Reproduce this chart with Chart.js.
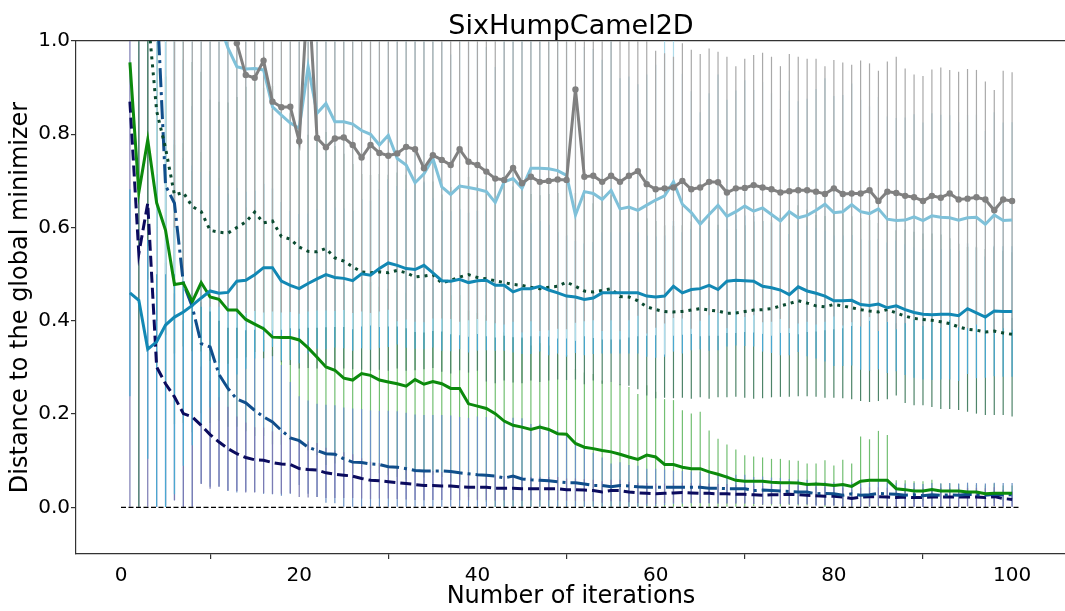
<!DOCTYPE html>
<html>
<head>
<meta charset="utf-8">
<title>SixHumpCamel2D</title>
<script src="https://cdn.jsdelivr.net/npm/chart.js@4.4.0/dist/chart.umd.min.js"></script>
<style>
html, body { margin: 0; padding: 0; overflow: hidden; background: #fff; }
canvas { display: block; }
</style>
</head>
<body>
<canvas id="myChart" width="1070" height="611"></canvas>
<script>
// iterations 1..100, axis ticks
const iterations = Array.from({ length: 100 }, (_, i) => i + 1);
const xTicks = [0, 20, 40, 60, 80, 100];
const yTicks = [0, 0.2, 0.4, 0.6, 0.8, 1.0];

// mean distance per iteration and its spread (error bar half length)
const gray = [3.4, 3.1, 2.8, 2.5, 2.2, 1.95, 1.75, 1.6, 1.48, 1.38,
  1.3, 1.2, 0.995, 0.927, 0.921, 0.958, 0.870, 0.858, 0.859, 0.785,
  1.12, 0.792, 0.772, 0.791, 0.793, 0.777, 0.750, 0.777, 0.760, 0.754,
  0.759, 0.773, 0.768, 0.727, 0.755, 0.745, 0.734, 0.768, 0.741, 0.734,
  0.720, 0.705, 0.702, 0.728, 0.695, 0.709, 0.698, 0.700, 0.703, 0.702,
  0.896, 0.709, 0.711, 0.698, 0.711, 0.698, 0.711, 0.721, 0.693, 0.682,
  0.684, 0.686, 0.700, 0.682, 0.686, 0.698, 0.697, 0.675, 0.684, 0.685,
  0.691, 0.686, 0.682, 0.675, 0.678, 0.680, 0.680, 0.677, 0.672, 0.684,
  0.672, 0.673, 0.673, 0.680, 0.657, 0.677, 0.674, 0.668, 0.665, 0.657,
  0.668, 0.664, 0.673, 0.660, 0.662, 0.665, 0.660, 0.637, 0.660, 0.657];
const grayErr = [2.35, 2.05, 1.75, 1.45, 1.15, 1.35, 1.25, 1.15, 1.05, 0.95,
  0.87, 0.77, 0.575, 0.51, 0.50, 0.54, 0.45, 0.44, 0.44, 0.37,
  0.70, 0.37, 0.35, 0.37, 0.37, 0.36, 0.33, 0.36, 0.34, 0.33,
  0.36, 0.37, 0.37, 0.33, 0.35, 0.34, 0.33, 0.37, 0.34, 0.33,
  0.32, 0.31, 0.31, 0.33, 0.32, 0.31, 0.32, 0.32, 0.32, 0.32,
  0.50, 0.31, 0.31, 0.32, 0.31, 0.32, 0.31, 0.31, 0.32, 0.297,
  0.29, 0.28, 0.295, 0.299, 0.286, 0.286, 0.28, 0.291, 0.262, 0.277,
  0.279, 0.289, 0.284, 0.271, 0.294, 0.286, 0.282, 0.285, 0.274, 0.275,
  0.282, 0.276, 0.285, 0.272, 0.279, 0.279, 0.292, 0.273, 0.263, 0.268,
  0.271, 0.279, 0.265, 0.274, 0.278, 0.273, 0.253, 0.258, 0.276, 0.276];

const lightBlue = [2.6, 2.4, 2.1, 1.9, 1.7, 1.55, 1.4, 1.28, 1.18, 1.1,
  1.04, 0.985, 0.945, 0.940, 0.941, 0.938, 0.859, 0.841, 0.824, 0.813,
  0.945, 0.845, 0.866, 0.827, 0.827, 0.822, 0.808, 0.800, 0.777, 0.798,
  0.748, 0.734, 0.696, 0.715, 0.748, 0.687, 0.671, 0.689, 0.686, 0.682,
  0.677, 0.654, 0.698, 0.705, 0.684, 0.727, 0.727, 0.726, 0.722, 0.712,
  0.627, 0.677, 0.673, 0.660, 0.680, 0.640, 0.644, 0.637, 0.648, 0.659,
  0.668, 0.698, 0.650, 0.632, 0.607, 0.628, 0.648, 0.624, 0.634, 0.646,
  0.635, 0.642, 0.628, 0.614, 0.634, 0.621, 0.626, 0.637, 0.650, 0.632,
  0.634, 0.649, 0.634, 0.630, 0.640, 0.618, 0.615, 0.616, 0.623, 0.615,
  0.625, 0.622, 0.621, 0.616, 0.621, 0.622, 0.607, 0.627, 0.615, 0.616];
const lightBlueErr = [1.5, 1.3, 1.1, 1.4, 1.2, 1.05, 0.92, 0.82, 0.74, 0.68,
  0.64, 0.6, 0.56, 0.56, 0.56, 0.55, 0.48, 0.46, 0.44, 0.43,
  0.56, 0.46, 0.48, 0.44, 0.44, 0.44, 0.42, 0.41, 0.39, 0.41,
  0.36, 0.35, 0.32, 0.34, 0.37, 0.31, 0.30, 0.32, 0.32, 0.31,
  0.31, 0.29, 0.33, 0.34, 0.32, 0.36, 0.36, 0.36, 0.36, 0.35,
  0.27, 0.31, 0.31, 0.30, 0.32, 0.28, 0.28, 0.27, 0.28, 0.29,
  0.34, 0.33, 0.28, 0.26, 0.24, 0.26, 0.28, 0.25, 0.26, 0.27,
  0.26, 0.27, 0.26, 0.24, 0.26, 0.25, 0.25, 0.26, 0.27, 0.25,
  0.25, 0.26, 0.24, 0.23, 0.24, 0.22, 0.22, 0.22, 0.22, 0.21,
  0.22, 0.22, 0.22, 0.21, 0.22, 0.22, 0.20, 0.22, 0.21, 0.21];

const teal = [0.460, 0.444, 0.339, 0.355, 0.391, 0.408, 0.419, 0.433, 0.449, 0.464,
  0.459, 0.461, 0.485, 0.487, 0.499, 0.514, 0.514, 0.485, 0.476, 0.469,
  0.480, 0.490, 0.499, 0.493, 0.491, 0.486, 0.501, 0.498, 0.512, 0.524,
  0.519, 0.512, 0.510, 0.519, 0.503, 0.486, 0.485, 0.489, 0.482, 0.486,
  0.487, 0.476, 0.476, 0.462, 0.469, 0.469, 0.474, 0.466, 0.460, 0.453,
  0.451, 0.446, 0.449, 0.460, 0.460, 0.460, 0.460, 0.460, 0.453, 0.451,
  0.453, 0.474, 0.460, 0.467, 0.469, 0.476, 0.467, 0.485, 0.487, 0.486,
  0.485, 0.474, 0.471, 0.466, 0.456, 0.473, 0.464, 0.459, 0.453, 0.443,
  0.443, 0.444, 0.435, 0.433, 0.436, 0.428, 0.432, 0.424, 0.418, 0.414,
  0.413, 0.414, 0.414, 0.411, 0.426, 0.417, 0.408, 0.421, 0.420, 0.420];
const tealErr = [0.222, 0.0, 0.235, 0.36, 0.39, 0.38, 0.33, 0.30, 0.27, 0.25,
  0.23, 0.21, 0.20, 0.19, 0.18, 0.18, 0.17, 0.17, 0.16, 0.16,
  0.15, 0.15, 0.16, 0.15, 0.15, 0.15, 0.16, 0.16, 0.17, 0.18,
  0.17, 0.17, 0.17, 0.18, 0.16, 0.15, 0.15, 0.15, 0.15, 0.15,
  0.15, 0.14, 0.14, 0.13, 0.14, 0.14, 0.14, 0.14, 0.13, 0.13,
  0.12, 0.12, 0.12, 0.13, 0.13, 0.13, 0.13, 0.13, 0.13, 0.13,
  0.13, 0.14, 0.13, 0.13, 0.13, 0.14, 0.13, 0.14, 0.14, 0.14,
  0.14, 0.14, 0.14, 0.14, 0.13, 0.14, 0.14, 0.14, 0.14, 0.14,
  0.14, 0.14, 0.14, 0.14, 0.14, 0.14, 0.14, 0.14, 0.14, 0.14,
  0.14, 0.14, 0.14, 0.14, 0.14, 0.14, 0.13, 0.14, 0.14, 0.14];

const dotted = [1.6, 1.4, 1.06, 0.85, 0.77, 0.67, 0.675, 0.645, 0.634, 0.594,
  0.590, 0.588, 0.600, 0.612, 0.633, 0.610, 0.614, 0.581, 0.575, 0.558,
  0.549, 0.548, 0.555, 0.535, 0.528, 0.516, 0.505, 0.503, 0.505, 0.503,
  0.508, 0.503, 0.494, 0.496, 0.499, 0.481, 0.487, 0.494, 0.499, 0.493,
  0.490, 0.486, 0.482, 0.478, 0.476, 0.472, 0.469, 0.472, 0.474, 0.483,
  0.474, 0.464, 0.462, 0.465, 0.469, 0.452, 0.451, 0.443, 0.430, 0.424,
  0.420, 0.419, 0.420, 0.423, 0.426, 0.423, 0.421, 0.416, 0.417, 0.420,
  0.423, 0.424, 0.426, 0.432, 0.437, 0.443, 0.438, 0.432, 0.430, 0.435,
  0.432, 0.428, 0.424, 0.421, 0.419, 0.424, 0.417, 0.410, 0.405, 0.403,
  0.401, 0.398, 0.394, 0.387, 0.382, 0.380, 0.376, 0.378, 0.374, 0.371];
const dottedErr = [0.3, 1.45, 0.5, 0.45, 0.40, 0.34, 0.33, 0.31, 0.30, 0.28,
  0.28, 0.28, 0.28, 0.29, 0.30, 0.29, 0.29, 0.27, 0.27, 0.26,
  0.25, 0.25, 0.25, 0.24, 0.23, 0.22, 0.21, 0.21, 0.21, 0.21,
  0.21, 0.21, 0.20, 0.20, 0.20, 0.19, 0.20, 0.20, 0.21, 0.20,
  0.22, 0.22, 0.21, 0.21, 0.21, 0.20, 0.20, 0.20, 0.20, 0.21,
  0.20, 0.20, 0.19, 0.20, 0.20, 0.19, 0.19, 0.19, 0.19, 0.19,
  0.185, 0.185, 0.185, 0.19, 0.19, 0.19, 0.185, 0.18, 0.18, 0.185,
  0.19, 0.19, 0.19, 0.195, 0.20, 0.205, 0.20, 0.195, 0.195, 0.20,
  0.198, 0.196, 0.196, 0.195, 0.191, 0.192, 0.177, 0.186, 0.186, 0.184,
  0.186, 0.187, 0.183, 0.178, 0.177, 0.179, 0.178, 0.18, 0.176, 0.176];

const green = [0.954, 0.675, 0.788, 0.653, 0.594, 0.478, 0.481, 0.441, 0.482, 0.451,
  0.446, 0.423, 0.423, 0.403, 0.393, 0.383, 0.365, 0.364, 0.364, 0.359,
  0.342, 0.322, 0.301, 0.294, 0.277, 0.273, 0.287, 0.283, 0.273, 0.269,
  0.265, 0.260, 0.274, 0.264, 0.270, 0.265, 0.255, 0.255, 0.222, 0.217,
  0.212, 0.201, 0.185, 0.176, 0.172, 0.167, 0.172, 0.167, 0.158, 0.157,
  0.137, 0.129, 0.126, 0.122, 0.119, 0.114, 0.108, 0.103, 0.112, 0.108,
  0.092, 0.092, 0.086, 0.083, 0.083, 0.076, 0.071, 0.065, 0.058, 0.056,
  0.056, 0.056, 0.054, 0.053, 0.053, 0.052, 0.049, 0.050, 0.049, 0.047,
  0.049, 0.045, 0.056, 0.058, 0.058, 0.058, 0.040, 0.038, 0.035, 0.035,
  0.038, 0.035, 0.035, 0.035, 0.033, 0.033, 0.029, 0.030, 0.030, 0.030];
const greenErr = [0.0, 0.0, 0.30, 0.35, 0.33, 0.30, 0.30, 0.28, 0.28, 0.27,
  0.26, 0.25, 0.25, 0.24, 0.24, 0.23, 0.23, 0.23, 0.22, 0.22,
  0.22, 0.21, 0.21, 0.20, 0.20, 0.20, 0.20, 0.20, 0.20, 0.20,
  0.20, 0.20, 0.20, 0.20, 0.20, 0.20, 0.20, 0.20, 0.20, 0.20,
  0.20, 0.20, 0.19, 0.19, 0.19, 0.18, 0.18, 0.18, 0.17, 0.17,
  0.16, 0.16, 0.16, 0.15, 0.15, 0.15, 0.15, 0.14, 0.15, 0.14,
  0.14, 0.138, 0.122, 0.118, 0.122, 0.089, 0.076, 0.070, 0.066, 0.056,
  0.053, 0.051, 0.050, 0.051, 0.048, 0.048, 0.045, 0.044, 0.052, 0.043,
  0.053, 0.049, 0.096, 0.088, 0.106, 0.097, 0.018, 0.020, 0.021, 0.021,
  0.021, 0.016, 0.016, 0.015, 0.014, 0.015, 0.018, 0.021, 0.017, 0.017];

const dashDot = [1.9, 1.7, 1.45, 1.1, 0.69, 0.652, 0.48, 0.43, 0.351, 0.344,
  0.285, 0.255, 0.232, 0.224, 0.208, 0.194, 0.183, 0.165, 0.149, 0.143,
  0.129, 0.122, 0.115, 0.114, 0.104, 0.097, 0.096, 0.093, 0.092, 0.087,
  0.086, 0.083, 0.079, 0.078, 0.078, 0.078, 0.077, 0.074, 0.072, 0.070,
  0.069, 0.067, 0.063, 0.067, 0.061, 0.059, 0.058, 0.057, 0.055, 0.053,
  0.053, 0.050, 0.047, 0.047, 0.044, 0.047, 0.046, 0.044, 0.043, 0.043,
  0.043, 0.043, 0.043, 0.043, 0.043, 0.041, 0.041, 0.040, 0.040, 0.040,
  0.036, 0.037, 0.036, 0.035, 0.034, 0.033, 0.033, 0.029, 0.030, 0.029,
  0.026, 0.029, 0.026, 0.027, 0.030, 0.029, 0.028, 0.026, 0.027, 0.025,
  0.027, 0.026, 0.027, 0.026, 0.028, 0.027, 0.026, 0.028, 0.027, 0.027];
const dashDotErr = [0.3, 0.3, 0.3, 0.5, 0.69, 0.637, 0.48, 0.43, 0.30, 0.30,
  0.24, 0.22, 0.20, 0.19, 0.175, 0.165, 0.155, 0.14, 0.12, 0.095,
  0.10, 0.10, 0.105, 0.105, 0.11, 0.115, 0.115, 0.115, 0.115, 0.12,
  0.12, 0.12, 0.12, 0.12, 0.12, 0.12, 0.12, 0.12, 0.12, 0.125,
  0.125, 0.125, 0.125, 0.125, 0.13, 0.12, 0.12, 0.11, 0.11, 0.10,
  0.09, 0.08, 0.07, 0.06, 0.05, 0.05, 0.045, 0.045, 0.04, 0.04,
  0.038, 0.036, 0.035, 0.034, 0.033, 0.032, 0.031, 0.030, 0.030, 0.030,
  0.029, 0.029, 0.028, 0.028, 0.027, 0.027, 0.026, 0.026, 0.025, 0.025,
  0.025, 0.025, 0.025, 0.025, 0.025, 0.025, 0.025, 0.025, 0.025, 0.025,
  0.025, 0.025, 0.025, 0.025, 0.025, 0.025, 0.025, 0.025, 0.025, 0.025];

const navy = [0.870, 0.544, 0.652, 0.301, 0.265, 0.237, 0.201, 0.194, 0.176, 0.156,
  0.140, 0.126, 0.115, 0.107, 0.102, 0.101, 0.096, 0.093, 0.092, 0.083,
  0.081, 0.080, 0.074, 0.071, 0.069, 0.067, 0.062, 0.058, 0.057, 0.055,
  0.053, 0.051, 0.049, 0.047, 0.047, 0.046, 0.046, 0.044, 0.043, 0.043,
  0.043, 0.041, 0.041, 0.041, 0.040, 0.040, 0.040, 0.040, 0.040, 0.038,
  0.038, 0.037, 0.036, 0.033, 0.036, 0.036, 0.033, 0.031, 0.030, 0.029,
  0.030, 0.031, 0.032, 0.031, 0.030, 0.030, 0.029, 0.029, 0.028, 0.028,
  0.027, 0.026, 0.027, 0.027, 0.028, 0.027, 0.026, 0.025, 0.024, 0.024,
  0.022, 0.019, 0.022, 0.023, 0.023, 0.022, 0.021, 0.022, 0.021, 0.021,
  0.022, 0.022, 0.022, 0.022, 0.022, 0.022, 0.021, 0.023, 0.019, 0.017];
const navyErr = [0.9, 0.55, 0.66, 0.30, 0.26, 0.222, 0.2, 0.194, 0.126, 0.116,
  0.096, 0.09, 0.08, 0.075, 0.07, 0.07, 0.067, 0.064, 0.062, 0.061,
  0.06, 0.058, 0.054, 0.051, 0.049, 0.047, 0.043, 0.04, 0.038, 0.036,
  0.035, 0.034, 0.033, 0.032, 0.031, 0.03, 0.03, 0.029, 0.028, 0.028,
  0.027, 0.027, 0.026, 0.026, 0.026, 0.025, 0.025, 0.025, 0.025, 0.024,
  0.024, 0.024, 0.023, 0.023, 0.023, 0.023, 0.022, 0.022, 0.022, 0.022,
  0.021, 0.021, 0.021, 0.021, 0.021, 0.021, 0.021, 0.021, 0.02, 0.02,
  0.02, 0.02, 0.02, 0.02, 0.02, 0.02, 0.02, 0.02, 0.02, 0.02,
  0.02, 0.019, 0.02, 0.02, 0.02, 0.02, 0.02, 0.02, 0.02, 0.02,
  0.02, 0.02, 0.02, 0.02, 0.02, 0.02, 0.02, 0.02, 0.019, 0.017];

// reference line at zero
const zeroLineX = [0, 101];

function points(mean) {
    return iterations.map((x, i) => ({ x: x, y: mean[i] }));
}
// error bars as thin floating bars, clipped at zero like the original
function errorBars(mean, err) {
    return iterations.map((x, i) => ({ x: x, y: [Math.max(0, mean[i] - err[i]), mean[i] + err[i]] }));
}

const barStyle = { type: 'bar', barThickness: 1.2, grouped: false, borderWidth: 0, inflateAmount: 0, clip: 0 };
const lineStyle = { type: 'line', borderWidth: 3, pointRadius: 0, tension: 0, fill: false, borderCapStyle: 'butt' };

Chart.defaults.font.family = "'DejaVu Sans', sans-serif";
Chart.defaults.color = '#000';

const ctx = document.getElementById('myChart').getContext('2d');
const myChart = new Chart(ctx, {
    type: 'line',
    data: {
        datasets: [
            // bars first (underneath the lines); lower order ends up on top
            { ...barStyle, data: errorBars(green, greenErr), backgroundColor: '#72bf72', order: 16 },
            { ...barStyle, data: errorBars(dashDot, dashDotErr), backgroundColor: '#6c93c6', order: 15 },
            { ...barStyle, data: errorBars(navy, navyErr), backgroundColor: '#7b7bb4', order: 14 },
            { ...barStyle, data: errorBars(dotted, dottedErr), backgroundColor: '#4e8469', order: 13 },
            { ...barStyle, data: errorBars(teal, tealErr), backgroundColor: '#4aa8d0', order: 12 },
            { ...barStyle, data: errorBars(lightBlue, lightBlueErr), backgroundColor: '#afdbea', order: 11 },
            { ...barStyle, data: errorBars(gray, grayErr), backgroundColor: '#a9a9a9', order: 10 },

            { ...lineStyle, data: points(gray), borderColor: '#808080', pointRadius: 3.2, pointBackgroundColor: '#808080', pointBorderWidth: 0, order: 0 },
            { ...lineStyle, data: points(lightBlue), borderColor: '#7fc1d9', order: 1 },
            { ...lineStyle, data: points(teal), borderColor: '#1288b4', order: 2 },
            { ...lineStyle, data: points(dotted), borderColor: '#0a4a30', borderDash: [3, 5], order: 3 },
            { ...lineStyle, data: points(green), borderColor: '#0c8a0c', order: 4 },
            { ...lineStyle, data: points(dashDot), borderColor: '#104e8b', borderDash: [19, 5, 3, 5], order: 5 },
            { ...lineStyle, data: points(navy), borderColor: '#0b0b5e', borderDash: [11, 5], order: 6 },
            { ...lineStyle, data: zeroLineX.map(x => ({ x: x, y: 0 })), borderColor: '#000', borderWidth: 1.3, borderDash: [5, 2.5], order: 7 }
        ]
    },
    options: {
        responsive: false,
        animation: false,
        events: [],
        layout: { padding: 0 },
        plugins: {
            legend: { display: false },
            tooltip: { enabled: false },
            title: {
                display: true,
                text: 'SixHumpCamel2D',
                fullSize: false,
                color: '#000',
                font: { size: 27, weight: 'normal', lineHeight: 0.7 },
                padding: { top: 18, bottom: 4.1 }
            }
        },
        scales: {
            x: {
                type: 'linear',
                min: -5.05,
                max: 106.05,
                offset: false,
                afterBuildTicks: function (scale) { scale.ticks = xTicks.map(v => ({ value: v })); },
                afterFit: function (scale) { scale.height = 57; },
                ticks: { font: { size: 20 }, color: '#000', padding: 5, maxRotation: 0, autoSkip: false, callback: v => String(v) },
                grid: { display: true, drawOnChartArea: false, drawTicks: true, tickLength: 5, color: '#333', lineWidth: 1.2 },
                border: { display: true, color: '#333', width: 1.2 },
                title: { display: true, text: 'Number of iterations', color: '#000', font: { size: 24 }, padding: { top: 0, bottom: 0 } }
            },
            xTop: {
                type: 'linear',
                position: 'top',
                min: -5.05,
                max: 106.05,
                ticks: { display: false },
                grid: { display: false },
                border: { display: true, color: '#333', width: 1.2 },
                afterFit: function (scale) { scale.height = 0; }
            },
            y: {
                type: 'linear',
                min: -0.1,
                max: 1.0,
                afterBuildTicks: function (scale) { scale.ticks = yTicks.map(v => ({ value: v })); },
                afterFit: function (scale) { scale.width = 76; },
                ticks: { font: { size: 20 }, color: '#000', padding: 1, callback: v => v.toFixed(1) },
                grid: { display: true, drawOnChartArea: false, drawTicks: true, tickLength: 5, color: '#333', lineWidth: 1.2 },
                border: { display: true, color: '#333', width: 1.2 },
                title: { display: true, text: 'Distance to the global minimizer', color: '#000', font: { size: 24 }, padding: { top: 6, bottom: 0 } }
            }
        }
    }
});
</script>
</body>
</html>
